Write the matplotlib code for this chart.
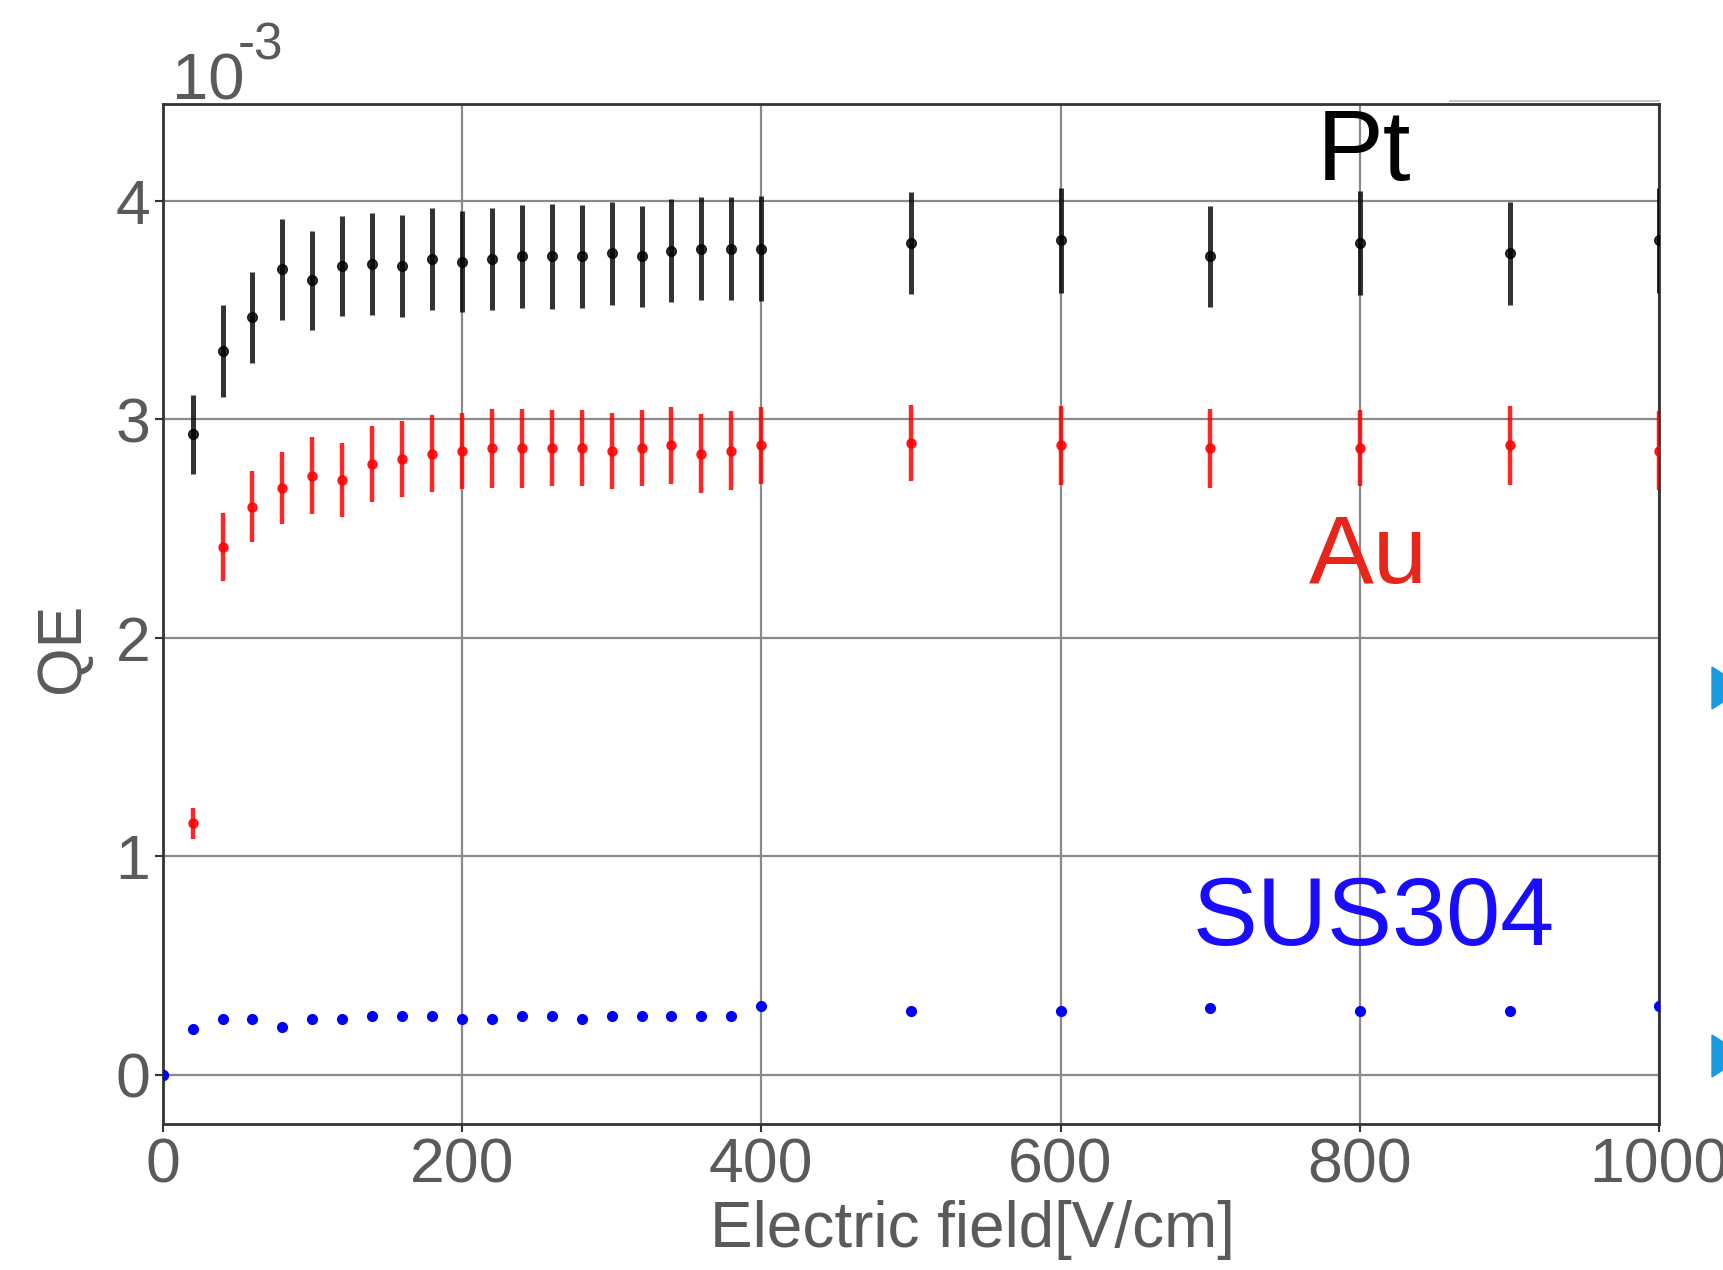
import matplotlib.pyplot as plt
from matplotlib.patches import Polygon

# QE values in units of 1e-3
field = [0, 20, 40, 60, 80, 100, 120, 140, 160, 180, 200, 220, 240, 260, 280,
         300, 320, 340, 360, 380, 400, 500, 600, 700, 800, 900, 1000]

qe_pt = [0, 2.93, 3.31, 3.465, 3.685, 3.635, 3.70, 3.71, 3.70, 3.733, 3.72, 3.733,
         3.745, 3.745, 3.745, 3.758, 3.745, 3.77, 3.78, 3.78, 3.78,
         3.806, 3.818, 3.745, 3.806, 3.758, 3.818]
err_pt = [0, 0.18, 0.21, 0.21, 0.23, 0.225, 0.23, 0.235, 0.235, 0.235, 0.23, 0.235,
          0.235, 0.24, 0.235, 0.235, 0.23, 0.235, 0.235, 0.235, 0.24,
          0.235, 0.24, 0.23, 0.24, 0.235, 0.24]

qe_au = [0, 1.15, 2.415, 2.60, 2.685, 2.742, 2.72, 2.795, 2.818, 2.842, 2.855, 2.867,
         2.867, 2.867, 2.867, 2.855, 2.867, 2.88, 2.842, 2.855, 2.88,
         2.89, 2.88, 2.867, 2.867, 2.88, 2.855]
err_au = [0, 0.07, 0.155, 0.163, 0.165, 0.175, 0.17, 0.175, 0.175, 0.175, 0.175, 0.18,
          0.18, 0.175, 0.175, 0.175, 0.175, 0.175, 0.18, 0.18, 0.175,
          0.175, 0.18, 0.18, 0.175, 0.18, 0.18]

qe_sus = [0, 0.208, 0.256, 0.256, 0.22, 0.256, 0.256, 0.268, 0.268, 0.268, 0.256, 0.256,
          0.268, 0.268, 0.256, 0.268, 0.268, 0.268, 0.268, 0.268, 0.317,
          0.294, 0.294, 0.306, 0.294, 0.294, 0.314]
err_sus = [0.012] * len(field)

xticks = [0, 200, 400, 600, 800, 1000]
yticks = [0, 1, 2, 3, 4]

W, H = 1723, 1270
fig = plt.figure(figsize=(W / 100, H / 100), dpi=100)
ax = fig.add_axes([0.0944, 0.1148, 0.8686, 0.803])

fnt = ['Liberation Sans', 'DejaVu Sans']
gray = '#5a5a5a'

ax.errorbar(field, qe_pt, yerr=err_pt, fmt='o', color='black', ms=7,
            elinewidth=3.6, capsize=0, alpha=0.8, zorder=3)
ax.errorbar(field, qe_au, yerr=err_au, fmt='o', color='#ff0000', ms=6.5,
            elinewidth=3.2, capsize=0, alpha=0.85, zorder=3)
ax.errorbar(field, qe_sus, yerr=err_sus, fmt='o', color='#0000ff', ms=7,
            elinewidth=3, capsize=0, zorder=4)

ax.set_xlim(0, 1000)
ax.set_ylim(-0.226, 4.44)
ax.set_xticks(xticks)
ax.set_yticks(yticks)
ax.grid(True, color='#8a8a8a', linewidth=1.6)
ax.set_axisbelow(True)
for s in ax.spines.values():
    s.set_color('#333333')
    s.set_linewidth(2)
ax.tick_params(axis='both', colors='#333333', labelcolor=gray, labelsize=45,
               length=6, width=1.5, direction='out', pad=3)
for lab in ax.get_xticklabels() + ax.get_yticklabels():
    lab.set_family(fnt)

ax.set_xlabel('Electric field[V/cm]', fontsize=46, color=gray, family=fnt)
ax.xaxis.set_label_coords(0.541, -0.074)
ax.set_ylabel('QE', fontsize=45, color=gray, family=fnt)
ax.yaxis.set_label_coords(-0.047, 0.467)

# exponent label
fig.text(172 / W, 1 - 99 / H, '10', fontsize=47, color=gray, family=fnt,
         ha='left', va='baseline')
fig.text(238 / W, 1 - 60 / H, '-3', fontsize=37, color=gray, family=fnt,
         ha='left', va='baseline')

# series labels
ax.text(0.771, 0.951, 'Pt', transform=ax.transAxes, fontsize=72, color='black',
        family=fnt, ha='left', va='center')
ax.text(0.766, 0.555, 'Au', transform=ax.transAxes, fontsize=70, color='#e8251a',
        family=fnt, ha='left', va='center')
ax.text(0.688, 0.2, 'SUS304', transform=ax.transAxes, fontsize=70, color='#1a0dff',
        family=fnt, ha='left', va='center')

# faint line above top-right corner
fig.add_artist(plt.Line2D([1450 / W, 1659 / W], [1 - 101 / H, 1 - 101 / H],
                          color='#bbbbbb', linewidth=1.2))

# cut-off arrow heads at the right edge
for yc in (688, 1056):
    tri = Polygon([[1712 / W, 1 - (yc - 21) / H], [1712 / W, 1 - (yc + 21) / H],
                   [1745 / W, 1 - yc / H]], closed=True, color='#1a9be0',
                  transform=fig.transFigure)
    fig.add_artist(tri)

fig.savefig('out.png', dpi=100)
